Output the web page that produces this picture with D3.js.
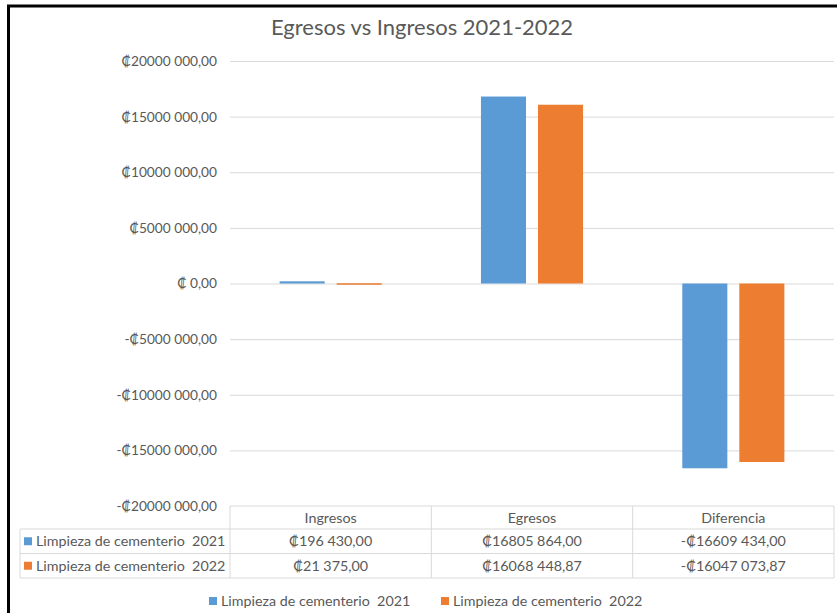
<!DOCTYPE html>
<html>
<head>
<meta charset="utf-8">
<script src="https://cdn.jsdelivr.net/npm/d3@7"></script>
<style>
  html, body { margin: 0; padding: 0; background: #fff; }
  svg { display: block; }
  text { white-space: pre; }
</style>
</head>
<body>
<svg id="chart" width="837" height="613"></svg>
<script>
const title = "Egresos vs Ingresos 2021-2022";
const categories = ["Ingresos", "Egresos", "Diferencia"];
const seriesNames = ["Limpieza de cementerio  2021", "Limpieza de cementerio  2022"];
const values2021 = [196430.00, 16805864.00, -16609434.00];
const values2022 = [21375.00, 16068448.87, -16047073.87];
const tickValues = [20000000, 15000000, 10000000, 5000000, 0, -5000000, -10000000, -15000000, -20000000];
const tickLabels = ["₡20000 000,00", "₡15000 000,00", "₡10000 000,00", "₡5000 000,00", "₡ 0,00",
                    "-₡5000 000,00", "-₡10000 000,00", "-₡15000 000,00", "-₡20000 000,00"];
const colors = ["#5B9BD5", "#ED7D31"];

const FONT = "Lato, 'Open Sans', sans-serif";
const TEXT = "#595959";
const GRID = "#D9D9D9";

function fmt(v) {
  const neg = v < 0;
  const a = Math.abs(v);
  let s = a.toFixed(2);
  let [ip, dp] = s.split(".");
  if (ip.length > 3) ip = ip.slice(0, ip.length - 3) + " " + ip.slice(ip.length - 3);
  return (neg ? "-" : "") + "₡" + ip + "," + dp;
}

const svg = d3.select("#chart");

// frame
svg.append("path")
  .attr("d", "M8.5,613 L8.5,6 L837,6")
  .attr("fill", "none").attr("stroke", "#000").attr("stroke-width", 3);

const plotL = 230, plotR = 834;
const y = d3.scaleLinear().domain([-20000000, 20000000]).range([506, 61]);
const x = d3.scaleBand().domain(categories).range([plotL, plotR]).paddingInner(0).paddingOuter(0);
const xs = d3.scaleBand().domain(seriesNames).range([0, x.bandwidth()]).paddingInner(0.21).paddingOuter(0.87);

// title
svg.append("text").attr("x", 422).attr("y", 35).attr("text-anchor", "middle")
  .attr("font-family", FONT).attr("font-size", 22).attr("fill", TEXT).text(title);

// grid + tick labels
const yAxis = d3.axisLeft(y).tickValues(tickValues).tickSize(-(plotR - plotL))
  .tickFormat((d, i) => tickLabels[i]).tickPadding(13);
const ga = svg.append("g").attr("transform", `translate(${plotL},0)`).call(yAxis);
ga.select(".domain").remove();
ga.selectAll(".tick line").attr("stroke", GRID).attr("stroke-width", 1);
ga.selectAll(".tick text").attr("font-family", FONT).attr("font-size", 13.7).attr("fill", TEXT);
ga.selectAll(".tick").filter(d => d === -20000000).select("line").remove();

// bars
const data = categories.map((c, i) => ({ c, vals: [values2021[i], values2022[i]] }));
const gb = svg.append("g");
data.forEach(d => {
  d.vals.forEach((v, j) => {
    gb.append("rect")
      .attr("x", x(d.c) + xs(seriesNames[j]))
      .attr("width", xs.bandwidth())
      .attr("y", y(Math.max(0, v)))
      .attr("height", Math.max(1.5, Math.abs(y(v) - y(0))))
      .attr("fill", colors[j]);
  });
});

// data table
const tTop = 506, rowH = [23, 24.5, 24.5];
const rowY = [tTop, tTop + rowH[0], tTop + rowH[0] + rowH[1], tTop + rowH[0] + rowH[1] + rowH[2]];
const tbl = svg.append("g").attr("stroke", GRID).attr("stroke-width", 1).attr("fill", "none");
const tLeft = 20;
tbl.append("line").attr("x1", plotL).attr("x2", plotR).attr("y1", rowY[0]).attr("y2", rowY[0]);
[1, 2, 3].forEach(k => tbl.append("line").attr("x1", tLeft).attr("x2", plotR).attr("y1", rowY[k]).attr("y2", rowY[k]));
tbl.append("line").attr("x1", tLeft).attr("x2", tLeft).attr("y1", rowY[1]).attr("y2", rowY[3]);
categories.forEach(c => tbl.append("line").attr("x1", x(c)).attr("x2", x(c)).attr("y1", rowY[0]).attr("y2", rowY[3]));
tbl.append("line").attr("x1", plotR).attr("x2", plotR).attr("y1", rowY[0]).attr("y2", rowY[3]);

const tt = svg.append("g").attr("font-family", FONT).attr("font-size", 14.3).attr("fill", TEXT);
categories.forEach((c, i) => {
  const cx = x(c) + x.bandwidth() / 2;
  tt.append("text").attr("x", cx).attr("y", (rowY[0] + rowY[1]) / 2 + 5).attr("text-anchor", "middle").text(c);
  tt.append("text").attr("x", cx).attr("y", (rowY[1] + rowY[2]) / 2 + 5).attr("text-anchor", "middle").text(fmt(values2021[i]));
  tt.append("text").attr("x", cx).attr("y", (rowY[2] + rowY[3]) / 2 + 5).attr("text-anchor", "middle").text(fmt(values2022[i]));
});
seriesNames.forEach((s, j) => {
  const cy = (rowY[j + 1] + rowY[j + 2]) / 2;
  svg.append("rect").attr("x", 24).attr("y", cy - 4).attr("width", 8).attr("height", 8).attr("fill", colors[j]);
  tt.append("text").attr("x", 36).attr("y", cy + 5).text(s);
});

// legend
const legX = [209, 441];
seriesNames.forEach((s, j) => {
  svg.append("rect").attr("x", legX[j]).attr("y", 597).attr("width", 8).attr("height", 8).attr("fill", colors[j]);
  svg.append("text").attr("x", legX[j] + 12).attr("y", 606).attr("font-family", FONT)
    .attr("font-size", 14.3).attr("fill", TEXT).text(s);
});
</script>
</body>
</html>
